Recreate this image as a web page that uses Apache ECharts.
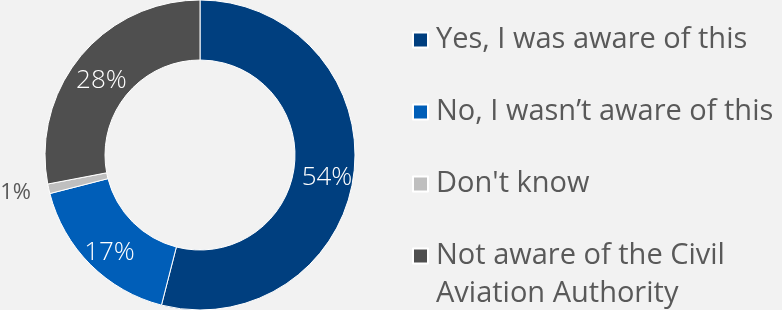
<!DOCTYPE html>
<html>
<head>
<meta charset="utf-8">
<script src="https://cdn.jsdelivr.net/npm/echarts@6/dist/echarts.min.js"></script>
<style>
  html, body { margin: 0; padding: 0; background: #f2f2f2; }
  #chart { width: 782px; height: 310px; }
</style>
</head>
<body>
<div id="chart"></div>
<script>
// answers and their shares (percent)
var answers = [
  "Yes, I was aware of this",
  "No, I wasn\u2019t aware of this",
  "Don't know",
  "Not aware of the Civil Aviation Authority"
];
var shares = [54, 17, 1, 28];
var colors = ["#003f7f", "#005eb8", "#bfbfbf", "#4f4f4f"];

var font = "'Open Sans', 'Noto Sans', sans-serif";

var pieData = answers.map(function (name, i) {
  var item = { name: name, value: shares[i] };
  if (shares[i] < 5) {
    // tiny slice: label sits outside, no leader line
    item.label = { position: "outside", color: "#595959", fontSize: 22, fontWeight: "normal", offset: [2, 2] };
    item.labelLine = { show: false, length: 10, length2: 5 };
  }
  return item;
});

var legendText = { fontFamily: font, fontSize: 29, color: "#595959", lineHeight: 38, padding: [0, 0, 0, 3] };

var chart = echarts.init(document.getElementById("chart"));
chart.setOption({
  backgroundColor: "#f2f2f2",
  color: colors,
  animation: false,
  legend: [
    {
      orient: "vertical",
      left: 412,
      top: 21,
      padding: 0,
      itemWidth: 15,
      itemHeight: 15,
      itemGap: 34,
      icon: "rect",
      data: answers.slice(0, 3),
      textStyle: legendText
    },
    {
      // last answer wraps onto two lines; an empty first line keeps
      // the icon level with "Not aware..."
      orient: "vertical",
      left: 412,
      top: 199,
      padding: 0,
      itemWidth: 15,
      itemHeight: 15,
      icon: "rect",
      data: answers.slice(3),
      formatter: function (name) {
        return "\n" + name.replace("Civil ", "Civil\n");
      },
      textStyle: legendText
    }
  ],
  series: [
    {
      type: "pie",
      center: [200, 155],
      radius: [95, 155],
      startAngle: 90,
      clockwise: true,
      avoidLabelOverlap: false,
      itemStyle: { borderColor: "#ffffff", borderWidth: 1 },
      label: {
        show: true,
        position: "inside",
        formatter: "{c}%",
        fontFamily: font,
        fontSize: 26,
        fontWeight: 300,
        color: "#ffffff",
        offset: [0, 7]
      },
      emphasis: { disabled: true },
      data: pieData
    }
  ]
});
</script>
</body>
</html>
